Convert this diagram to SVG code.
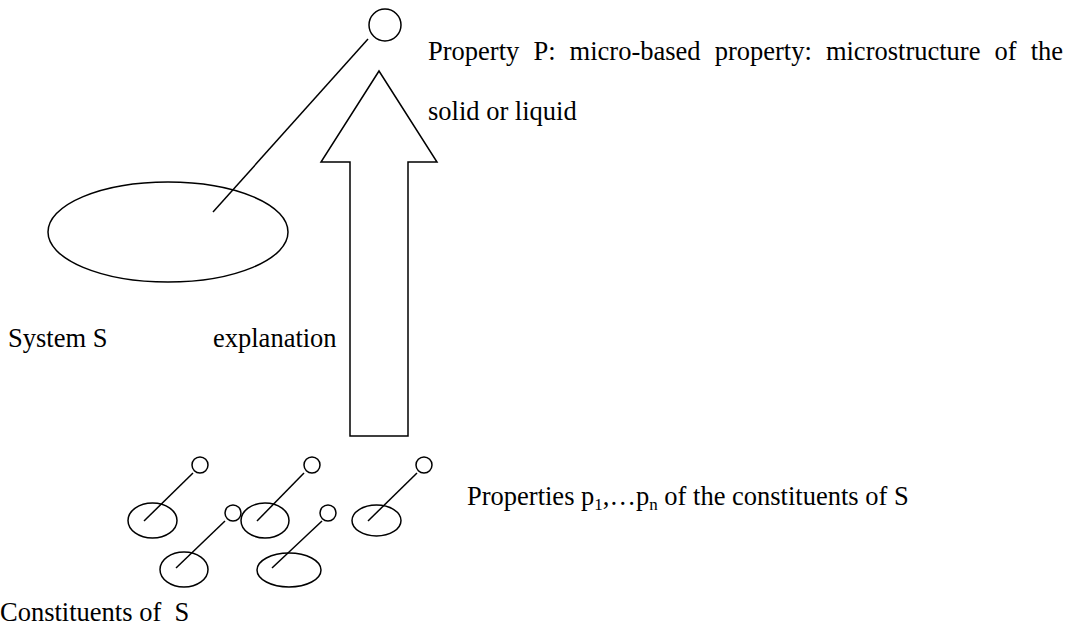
<svg xmlns="http://www.w3.org/2000/svg" width="1074" height="628" viewBox="0 0 1074 628">
<style>
.s{fill:none;stroke:#000;stroke-width:1.5}
.t{font-family:"Liberation Serif","Times New Roman",serif;font-size:26.5px;fill:#000}
.sub{font-size:17px}
</style>
<rect width="1074" height="628" fill="#fff"/>
<g id="system">
<ellipse class="s" cx="168" cy="232" rx="120" ry="50"/>
<text class="t" x="8" y="347">System S</text>
</g>
<g id="propertyP">
<circle class="s" cx="385" cy="25" r="16"/>
<text class="t" y="60"><tspan x="428">Property</tspan><tspan x="533.4">P:</tspan><tspan x="569.6">micro-based</tspan><tspan x="714.7">property:</tspan><tspan x="825.9">microstructure</tspan><tspan x="994.5">of</tspan><tspan x="1030.7">the</tspan></text>
<text class="t" x="428" y="120">solid or liquid</text>
</g>
<g id="explanation">
<path class="s" d="M379,71 L437,162 L408,162 L408,436 L350,436 L350,162 L321,162 Z"/>
<text class="t" x="213" y="347">explanation</text>
</g>
<g id="constituents">
<ellipse class="s" cx="152.5" cy="520.5" rx="24.5" ry="17.5"/>
<ellipse class="s" cx="265" cy="520.5" rx="24" ry="17.5"/>
<ellipse class="s" cx="376.5" cy="520.5" rx="24.5" ry="15.5"/>
<ellipse class="s" cx="184" cy="569.5" rx="24" ry="17.5"/>
<ellipse class="s" cx="289" cy="570" rx="32" ry="17"/>
<text class="t" x="0" y="621">Constituents of &#160;S</text>
</g>
<g id="properties">
<circle class="s" cx="200" cy="465" r="8"/>
<circle class="s" cx="312" cy="465" r="8"/>
<circle class="s" cx="424" cy="465" r="8"/>
<circle class="s" cx="233" cy="513" r="8"/>
<circle class="s" cx="328" cy="513" r="8"/>
<text class="t" x="467" y="505">Properties p<tspan class="sub" dy="5">1</tspan><tspan dy="-5">,…p</tspan><tspan class="sub" dy="5">n</tspan><tspan dy="-5"> of the constituents of S</tspan></text>
</g>
<g id="connectors">
<line class="s" x1="368" y1="39" x2="213" y2="212"/>
<line class="s" x1="193" y1="473" x2="144" y2="521"/>
<line class="s" x1="304" y1="473" x2="257" y2="521"/>
<line class="s" x1="417" y1="473" x2="368" y2="521"/>
<line class="s" x1="225" y1="521" x2="176" y2="568"/>
<line class="s" x1="322" y1="521" x2="272" y2="568"/>
</g>
</svg>
